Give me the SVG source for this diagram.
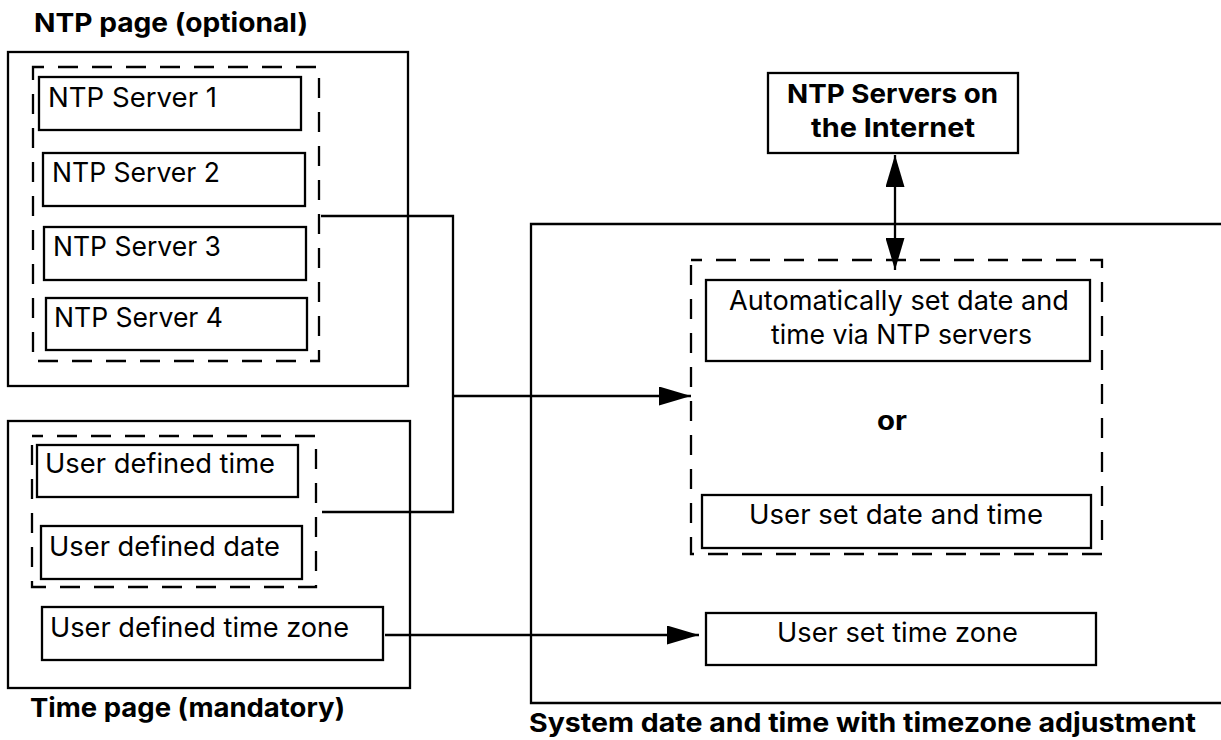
<svg xmlns="http://www.w3.org/2000/svg" width="1221" height="740" viewBox="0 0 1221 740">
<style>
  .box{fill:none;stroke:#000;stroke-width:2.3}
  .dash{fill:none;stroke:#000;stroke-width:2.3;stroke-dasharray:20 14;stroke-dashoffset:9}
  .t{font-family:Inter,"Liberation Sans",sans-serif;font-size:27px;fill:#000}
  .b{font-family:Inter,"Liberation Sans",sans-serif;font-size:26px;font-weight:bold;fill:#000}
  .line{fill:none;stroke:#000;stroke-width:2.3}
</style>
<defs>
  <marker id="ah" markerUnits="userSpaceOnUse" markerWidth="32" markerHeight="19" refX="32" refY="9.5" orient="auto-start-reverse" viewBox="0 0 32 19">
    <path d="M0,0 L32,9.5 L0,19 z" fill="#000"/>
  </marker>
</defs>
<rect width="1221" height="740" fill="#fff"/>

<g id="ntp-page">
  <text class="b" x="34" y="32" textLength="274" lengthAdjust="spacingAndGlyphs">NTP page (optional)</text>
  <rect class="box" x="8" y="52" width="400" height="334"/>
  <rect class="dash" x="33" y="67" width="286" height="294"/>
</g>
<g id="ntp-server-1">
  <rect class="box" x="39" y="77" width="262" height="53"/>
  <text class="t" x="48" y="107" textLength="169" lengthAdjust="spacingAndGlyphs">NTP Server 1</text>
</g>
<g id="ntp-server-2">
  <rect class="box" x="43" y="153" width="262" height="53"/>
  <text class="t" x="52" y="182" textLength="168" lengthAdjust="spacingAndGlyphs">NTP Server 2</text>
</g>
<g id="ntp-server-3">
  <rect class="box" x="44" y="227" width="262" height="53"/>
  <text class="t" x="53" y="256" textLength="168" lengthAdjust="spacingAndGlyphs">NTP Server 3</text>
</g>
<g id="ntp-server-4">
  <rect class="box" x="46" y="298" width="261" height="52"/>
  <text class="t" x="54" y="327" textLength="169" lengthAdjust="spacingAndGlyphs">NTP Server 4</text>
</g>

<g id="time-page">
  <rect class="box" x="8" y="421" width="402" height="267"/>
  <rect class="dash" x="32" y="436" width="284" height="151"/>
  <text class="b" x="30" y="717" textLength="315" lengthAdjust="spacingAndGlyphs">Time page (mandatory)</text>
</g>
<g id="user-defined-time">
  <rect class="box" x="37" y="445" width="261" height="52"/>
  <text class="t" x="45" y="473" textLength="230" lengthAdjust="spacingAndGlyphs">User defined time</text>
</g>
<g id="user-defined-date">
  <rect class="box" x="41" y="526" width="261" height="53"/>
  <text class="t" x="49" y="556" textLength="231" lengthAdjust="spacingAndGlyphs">User defined date</text>
</g>
<g id="user-defined-time-zone">
  <rect class="box" x="42" y="607" width="341" height="53"/>
  <text class="t" x="50" y="637" textLength="299" lengthAdjust="spacingAndGlyphs">User defined time zone</text>
</g>

<g id="ntp-internet">
  <rect class="box" x="768" y="73" width="250" height="80"/>
  <text class="b" x="787" y="103" textLength="211" lengthAdjust="spacingAndGlyphs">NTP Servers on</text>
  <text class="b" x="811" y="137" textLength="164" lengthAdjust="spacingAndGlyphs">the Internet</text>
</g>

<g id="system">
  <path class="box" d="M1225,224 H531 V703 H1225"/>
  <rect class="dash" x="691" y="260" width="411" height="294"/>
  <text class="b" x="877" y="430" textLength="30" lengthAdjust="spacingAndGlyphs">or</text>
  <text class="b" x="529" y="732" textLength="667" lengthAdjust="spacingAndGlyphs">System date and time with timezone adjustment</text>
</g>
<g id="auto-ntp">
  <rect class="box" x="706" y="280" width="384" height="81"/>
  <text class="t" x="729" y="310" textLength="340" lengthAdjust="spacingAndGlyphs">Automatically set date and</text>
  <text class="t" x="771" y="344" textLength="261" lengthAdjust="spacingAndGlyphs">time via NTP servers</text>
</g>
<g id="user-set-date-time">
  <rect class="box" x="702" y="495" width="389" height="53"/>
  <text class="t" x="749" y="524" textLength="294" lengthAdjust="spacingAndGlyphs">User set date and time</text>
</g>
<g id="user-set-time-zone">
  <rect class="box" x="706" y="613" width="390" height="52"/>
  <text class="t" x="777" y="642" textLength="241" lengthAdjust="spacingAndGlyphs">User set time zone</text>
</g>

<g id="connectors">
  <path class="line" d="M321,216 H453 V512 H322"/>
  <path class="line" d="M453,396 H691" marker-end="url(#ah)"/>
  <path class="line" d="M385,635 H699" marker-end="url(#ah)"/>
  <path class="line" d="M895,155 V270" marker-start="url(#ah)" marker-end="url(#ah)"/>
</g>
</svg>
